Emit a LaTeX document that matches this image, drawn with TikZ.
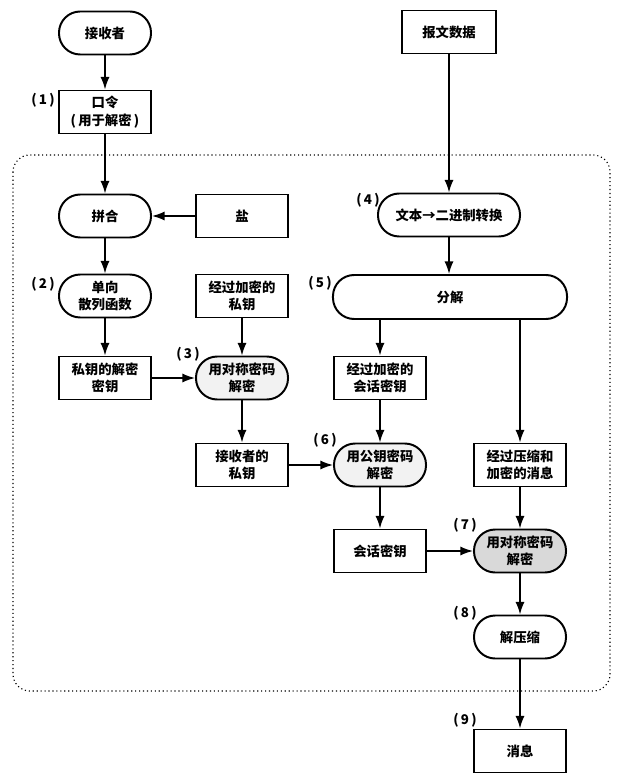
\documentclass[tikz,border=0pt]{standalone}
\usepackage{fontspec}
\newfontfamily\cjk{Noto Sans CJK SC}
\usetikzlibrary{arrows.meta}

\begin{document}
\begin{tikzpicture}[
    		x=0.025cm, y=-0.025cm,
    		every node/.style={anchor=center, font=\cjk\bfseries\fontsize{9.5}{12.5}\selectfont, inner sep=0pt, align=center},
    		terminal/.style={draw, line width=1.4pt, rounded corners=0.53cm, minimum width=2.3cm, minimum height=1.075cm},
    		process/.style={draw, line width=1.4pt, minimum width=2.3cm, minimum height=1.075cm},
    		stepnum/.style={font=\cjk\bfseries\fontsize{9.5}{11}\selectfont},
    		to/.style={-{Latex[length=9pt,width=6.5pt]}, line width=1.1pt}
    		]
    		\useasboundingbox (0,0) rectangle (620,780);
    		
    		\draw[dotted, line width=0.8pt, rounded corners=12pt] (13,155) rectangle (610,691);
    		
    		\node[terminal] (recv) at (105,33) {接收者};
    		\node[process] (pwd) at (105,112) {口令\\(\,用于解密\,)};
    		\node[terminal] (concat) at (105,216) {拼合};
    		\node[process] (salt) at (242,216) {盐};
    		\node[terminal] (hash) at (105,296) {单向\\散列函数};
    		\node[process] (encpriv) at (242,296) {经过加密的\\私钥};
    		\node[process] (deckey) at (105,378) {私钥的解密\\密钥};
    		\node[terminal, fill=gray!10] (symdec1) at (242,378) {用对称密码\\解密};
    		\node[process] (privkey) at (242,465) {接收者的\\私钥};
    		
    		\node[process, minimum width=2.35cm] (msgdata) at (449,32) {报文数据};
    		\node[terminal, minimum width=3.55cm] (bin) at (449,215) {文本→二进制转换};
    		\node[terminal, minimum width=5.85cm, minimum height=1.1cm] (split) at (450,297) {分解};
    		\node[process] (enckey) at (380,378) {经过加密的\\会话密钥};
    		\node[process] (encmsg) at (520,465) {经过压缩和\\加密的消息};
    		\node[terminal, fill=gray!10] (pubdec) at (380,465) {用公钥密码\\解密};
    		\node[process] (sesskey) at (380,551) {会话密钥};
    		\node[terminal, fill=gray!30] (symdec2) at (520,551) {用对称密码\\解密};
    		\node[terminal] (unzip) at (520,637) {解压缩};
    		\node[process] (msg) at (520,751) {消息};
    		
    		% step numbers
    		\node[stepnum] (n1) at (43,100) {(\,1\,)};
    		\node[stepnum] (n2) at (43,284) {(\,2\,)};
    		\node[stepnum] (n3) at (188,354) {(\,3\,)};
    		\node[stepnum] (n4) at (368,200) {(\,4\,)};
    		\node[stepnum] (n5) at (320,283) {(\,5\,)};
    		\node[stepnum] (n6) at (325,440) {(\,6\,)};
    		\node[stepnum] (n7) at (465,525) {(\,7\,)};
    		\node[stepnum] (n8) at (465,613) {(\,8\,)};
    		\node[stepnum] (n9) at (465,720) {(\,9\,)};
    		
    		\draw[to] (recv) -- (pwd);
    		\draw[to] (pwd) -- (concat);
    		\draw[to] (salt) -- (concat);
    		\draw[to] (concat) -- (hash);
    		\draw[to] (hash) -- (deckey);
    		\draw[to] (deckey) -- (symdec1);
    		\draw[to] (encpriv) -- (symdec1);
    		\draw[to] (symdec1) -- (privkey);
    		\draw[to] (privkey) -- (pubdec);
    		\draw[to] (msgdata) -- (bin);
    		\draw[to] (bin) -- (bin |- split.north);
    		\draw[to] (split.south -| enckey) -- (enckey);
    		\draw[to] (split.south -| encmsg) -- (encmsg);
    		\draw[to] (enckey) -- (pubdec);
    		\draw[to] (pubdec) -- (sesskey);
    		\draw[to] (sesskey) -- (symdec2);
    		\draw[to] (encmsg) -- (symdec2);
    		\draw[to] (symdec2) -- (unzip);
    		\draw[to] (unzip) -- (msg);
    		
    		\end{tikzpicture}
\end{document}
